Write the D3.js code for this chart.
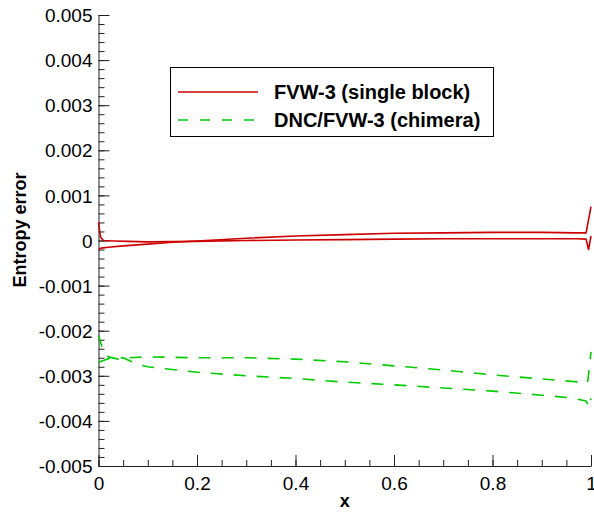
<!DOCTYPE html>
<html><head><meta charset="utf-8">
<script src="https://cdn.jsdelivr.net/npm/d3@7"></script>
<style>body{margin:0;background:#fff}svg{display:block}text{font-family:"Liberation Sans",Arial,Helvetica,sans-serif}</style>
</head><body><svg id="c" width="594" height="512"></svg>
<script>
// ---- data ----
const xTicks = [0, 0.2, 0.4, 0.6, 0.8, 1];
const xTickLabels = ["0", "0.2", "0.4", "0.6", "0.8", "1"];
const yTicks = [0.005, 0.004, 0.003, 0.002, 0.001, 0, -0.001, -0.002, -0.003, -0.004, -0.005];
const yTickLabels = ["0.005", "0.004", "0.003", "0.002", "0.001", "0", "-0.001", "-0.002", "-0.003", "-0.004", "-0.005"];
const seriesNames = ["FVW-3 (single block)", "DNC/FVW-3 (chimera)"];

// FVW-3 (single block): two branches
const redAX = [0, 0.004, 0.01, 0.03, 0.06, 0.1, 0.2, 0.3, 0.4, 0.5, 0.6, 0.7, 0.8, 0.9, 0.97, 0.99, 0.995, 1.0];
const redAY = [0.0004, 0.00008, 0.0, -0.00001, -0.00002, -0.00003, -0.00002, 0.0, 0.00001, 0.00002, 0.00003, 0.00004, 0.00004, 0.00004, 0.00004, 0.00003, -0.0002, 0.0001];
const redBX = [0, 0.005, 0.02, 0.05, 0.1, 0.15, 0.2, 0.3, 0.4, 0.5, 0.6, 0.7, 0.8, 0.9, 0.97, 0.99, 1.0];
const redBY = [-0.0002, -0.00017, -0.00015, -0.00012, -0.00008, -0.00004, -0.00001, 0.00005, 0.0001, 0.00013, 0.00016, 0.00017, 0.00018, 0.00018, 0.00017, 0.00017, 0.00075];
// DNC/FVW-3 (chimera): two branches
const grnAX = [0, 0.01, 0.02, 0.04, 0.06, 0.1, 0.2, 0.3, 0.4, 0.5, 0.6, 0.7, 0.8, 0.9, 0.98, 0.993, 1.0];
const grnAY = [-0.0021, -0.00247, -0.00258, -0.00263, -0.0026, -0.00258, -0.0026, -0.0026, -0.00263, -0.00269, -0.00278, -0.00287, -0.00298, -0.00307, -0.00314, -0.00316, -0.00247];
const grnBX = [0, 0.02, 0.05, 0.08, 0.1, 0.15, 0.2, 0.3, 0.4, 0.5, 0.6, 0.7, 0.8, 0.9, 0.96, 0.99, 0.997, 1.0];
const grnBY = [-0.0027, -0.00262, -0.0026, -0.00275, -0.0028, -0.00286, -0.00292, -0.003, -0.00306, -0.00314, -0.0032, -0.00327, -0.00334, -0.00343, -0.00349, -0.00356, -0.0037, -0.0035];

// ---- layout ----
const svg = d3.select("#c");
const L = 98.5, R = 591, T = 15, B = 466;
const x = d3.scaleLinear().domain([0, 1]).range([L, R]);
const y = d3.scaleLinear().domain([-0.005, 0.005]).range([B, T]);
const axisColor = "#222";

// minor ticks
const xMinor = d3.range(0, 1.0001, 0.05);
const yMinor = d3.range(-0.005, 0.00501, 0.0002);

const gx = svg.append("g").attr("transform", `translate(0,${B})`);
gx.call(d3.axisBottom(x).tickValues(xMinor).tickSize(-6).tickFormat(""));
gx.call(g => g.select(".domain").remove());
const gx2 = svg.append("g").attr("transform", `translate(0,${B})`);
gx2.call(d3.axisBottom(x).tickValues(xTicks).tickSize(-11).tickSizeOuter(0)
  .tickFormat((d, i) => xTickLabels[i]));
[gx, gx2].forEach(g => { g.selectAll("line,path").attr("stroke", axisColor).attr("stroke-width", 1); });
gx2.selectAll("text").attr("y", 6).attr("dy", "0.95em").attr("font-size", 19).attr("fill", "#000");

const gy = svg.append("g").attr("transform", `translate(${L},0)`);
gy.call(d3.axisLeft(y).tickValues(yMinor).tickSize(-6).tickFormat(""));
gy.call(g => g.select(".domain").remove());
const gy2 = svg.append("g").attr("transform", `translate(${L},0)`);
gy2.call(d3.axisLeft(y).tickValues(yTicks).tickSize(-11).tickSizeOuter(0)
  .tickFormat((d, i) => yTickLabels[i]));
[gy, gy2].forEach(g => { g.selectAll("line,path").attr("stroke", axisColor).attr("stroke-width", 1); });
gy2.selectAll("text").attr("x", -6).attr("dy", "0.35em").attr("font-size", 19).attr("fill", "#000");

// axis titles
svg.append("text").attr("x", (L + R) / 2).attr("y", 507).attr("text-anchor", "middle")
  .attr("font-size", 18).attr("font-weight", "bold").text("x");
svg.append("text").attr("transform", "translate(26,230) rotate(-90)").attr("text-anchor", "middle")
  .attr("font-size", 18).attr("font-weight", "bold").text("Entropy error");

// lines
const line = d3.line().x(d => x(d[0])).y(d => y(d[1]));
const red = "#cc0000", green = "#00cc00";
function draw(xs, ys, color, dash) {
  svg.append("path").datum(xs.map((v, i) => [v, ys[i]]))
    .attr("d", line).attr("fill", "none").attr("stroke", color)
    .attr("stroke-width", 1.6).attr("stroke-dasharray", dash)
    .attr("stroke-linejoin", "round");
}
draw(redAX, redAY, red, null);
draw(redBX, redBY, red, null);
draw(grnAX, grnAY, green, "12,11");
draw(grnBX, grnBY, green, "12,11");

// legend
const lg = svg.append("g");
lg.append("rect").attr("x", 170.5).attr("y", 67.5).attr("width", 323).attr("height", 69)
  .attr("fill", "#fff").attr("stroke", "#000").attr("stroke-width", 1);
const legendItems = [{name: seriesNames[0], color: red, dash: null, ly: 92},
                     {name: seriesNames[1], color: green, dash: "10,12", ly: 120}];
legendItems.forEach(it => {
  lg.append("line").attr("x1", 178).attr("x2", 258).attr("y1", it.ly).attr("y2", it.ly)
    .attr("stroke", it.color).attr("stroke-width", 1.3).attr("stroke-dasharray", it.dash);
  lg.append("text").attr("x", 274).attr("y", it.ly + 7).attr("font-size", 20)
    .attr("font-weight", "bold").attr("fill", "#000").text(it.name);
});
</script></body></html>
